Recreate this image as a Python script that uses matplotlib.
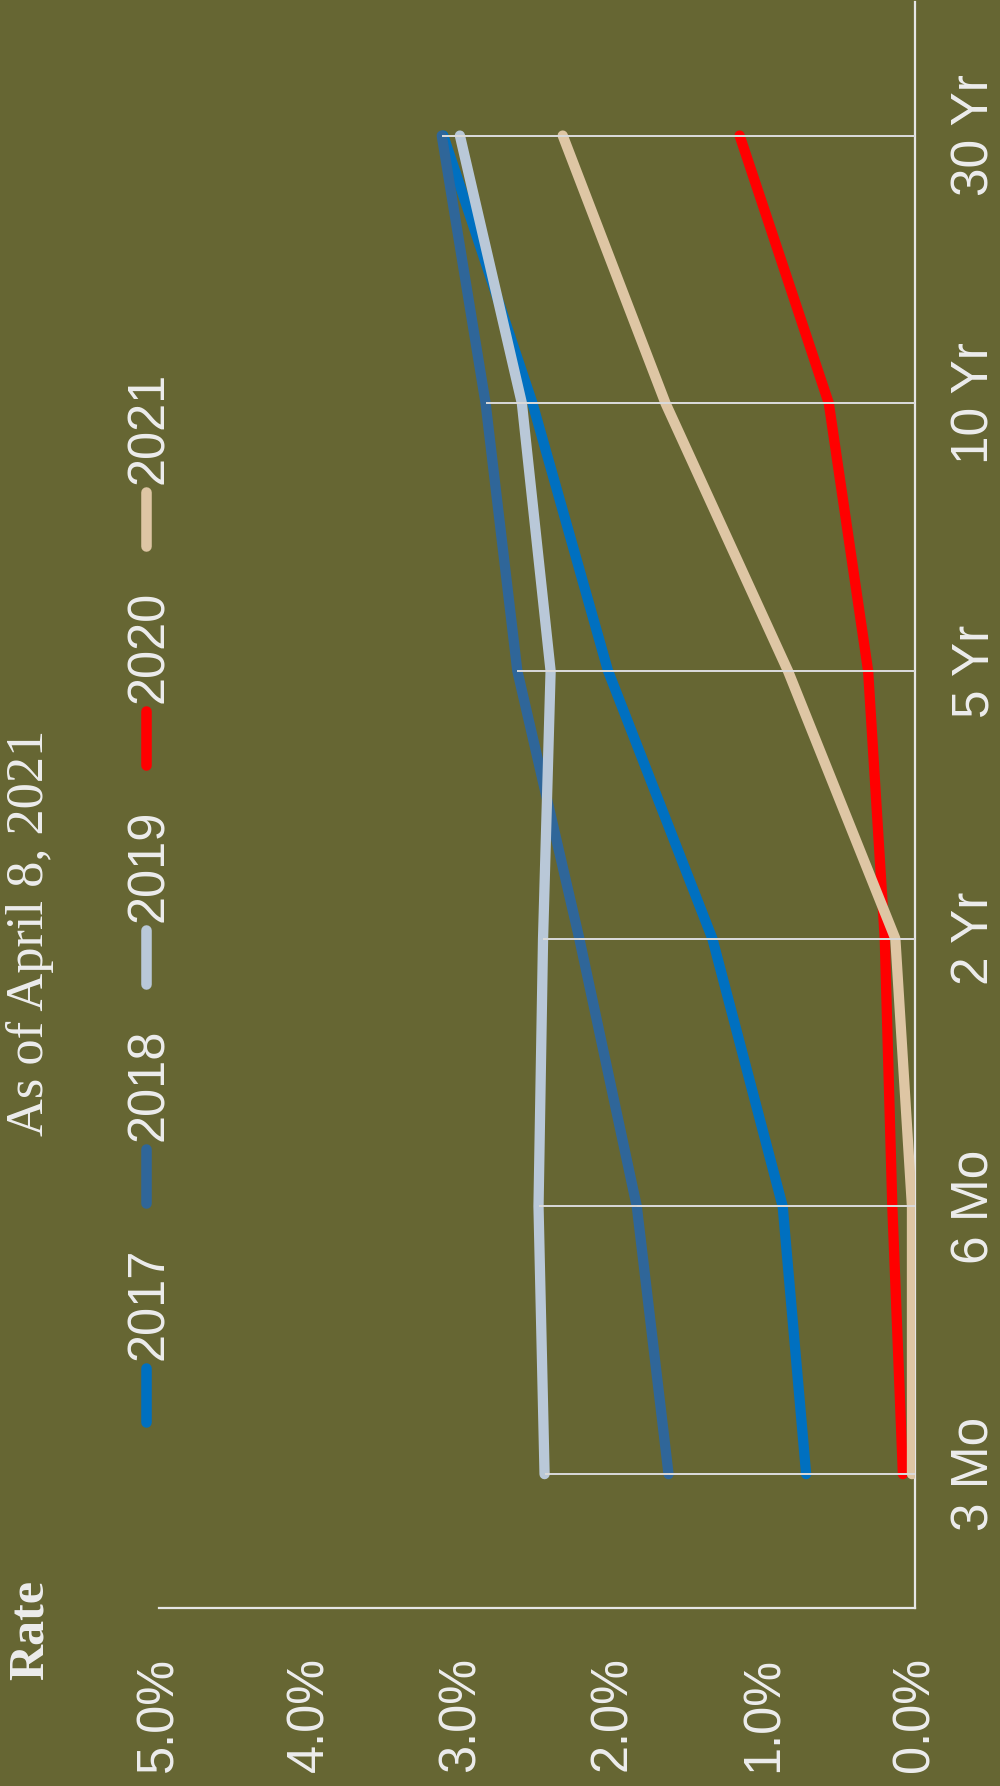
import matplotlib
matplotlib.use("Agg")
import matplotlib.pyplot as plt
from matplotlib.lines import Line2D
import numpy as np

# Treasury yield curves (percent), one series per year
maturities = ["3 Mo", "6 Mo", "2 Yr", "5 Yr", "10 Yr", "30 Yr"]
years = ["2017", "2018", "2019", "2020", "2021"]
y2017 = [0.72, 0.875, 1.34, 2.03, 2.53, 3.12]
y2018 = [1.63, 1.84, 2.22, 2.63, 2.84, 3.13]
y2019 = [2.45, 2.49, 2.46, 2.41, 2.60, 3.01]
y2020 = [0.08, 0.15, 0.20, 0.31, 0.57, 1.16]
y2021 = [0.02, 0.02, 0.13, 0.84, 1.65, 2.33]
rate_ticks = [0, 1, 2, 3, 4, 5]
title_text = "As of April 8, 2021"
axis_title = "Rate"

series = [y2017, y2018, y2019, y2020, y2021]
colors = ["#0070C0", "#2F6699", "#B9C8D8", "#FF0000", "#DEC6A4"]

BG = "#666633"
FG = "#EDEDED"
SANS = ["Liberation Sans", "DejaVu Sans"]
SERIF = ["Liberation Serif", "DejaVu Serif"]

W, H = 1000, 1786
fig = plt.figure(figsize=(W / 100, H / 100), dpi=100, facecolor=BG)


def fx(px):
    return px / W


def fy(py):
    return 1 - py / H


# Chart turned on its side: maturities run bottom-to-top, rates right-to-left
ax = fig.add_axes([fx(159), fy(1608), fx(915) - fx(159), fy(1.7) - fy(1608)])
ax.set_facecolor(BG)

idx = np.arange(len(maturities))
for vals, col in zip(series, colors):
    ax.plot(vals, idx, color=col, lw=7.4, solid_capstyle="round",
            solid_joinstyle="round", zorder=3)

# drop lines from every point to the zero line
for vals in series:
    ax.hlines(idx, 0, vals, color="#DADADA", lw=1.4, zorder=4)

ax.set_xlim(rate_ticks[-1], rate_ticks[0])
ax.set_ylim(-0.5, len(maturities) - 0.5)

ax.set_xticks(rate_ticks, labels=[f"{t:.1f}%" for t in rate_ticks],
              rotation=90, family=SANS)
ax.yaxis.tick_right()
ax.set_yticks(idx, labels=maturities, rotation=90, va="center", family=SANS)
ax.tick_params(axis="x", length=0, pad=35, labelsize=36.4, labelcolor=FG)
ax.tick_params(axis="y", length=0, pad=25.5, labelsize=37, labelcolor=FG)

for s in ["left", "top"]:
    ax.spines[s].set_visible(False)
for s in ["bottom", "right"]:
    ax.spines[s].set_color("#E6E6E6")
    ax.spines[s].set_linewidth(1.6)

# title and axis title, turned with the chart
fig.text(fx(43), fy(933), title_text, rotation=90, rotation_mode="anchor",
         ha="center", va="baseline", family=SERIF, fontsize=37.8, color=FG)
fig.text(fx(42.7), fy(1630), axis_title, rotation=90, rotation_mode="anchor",
         ha="center", va="baseline", family=SERIF, fontsize=36,
         fontweight="bold", color=FG)

# legend, stacked along the top edge of the turned chart
leg_x = 146
first_center = 1394.5
step = 218.8
half = 27
for i, (name, col) in enumerate(zip(years, colors)):
    c = first_center - i * step
    fig.add_artist(Line2D([fx(leg_x), fx(leg_x)], [fy(c + half), fy(c - half)],
                          color=col, lw=7.6, solid_capstyle="round",
                          transform=fig.transFigure))
    fig.text(fx(163), fy(c - half - 8), name, rotation=90,
             rotation_mode="anchor", ha="left", va="baseline",
             family=SANS, fontsize=36.4, color=FG)

fig.savefig("out.png", dpi=100, facecolor=BG)
